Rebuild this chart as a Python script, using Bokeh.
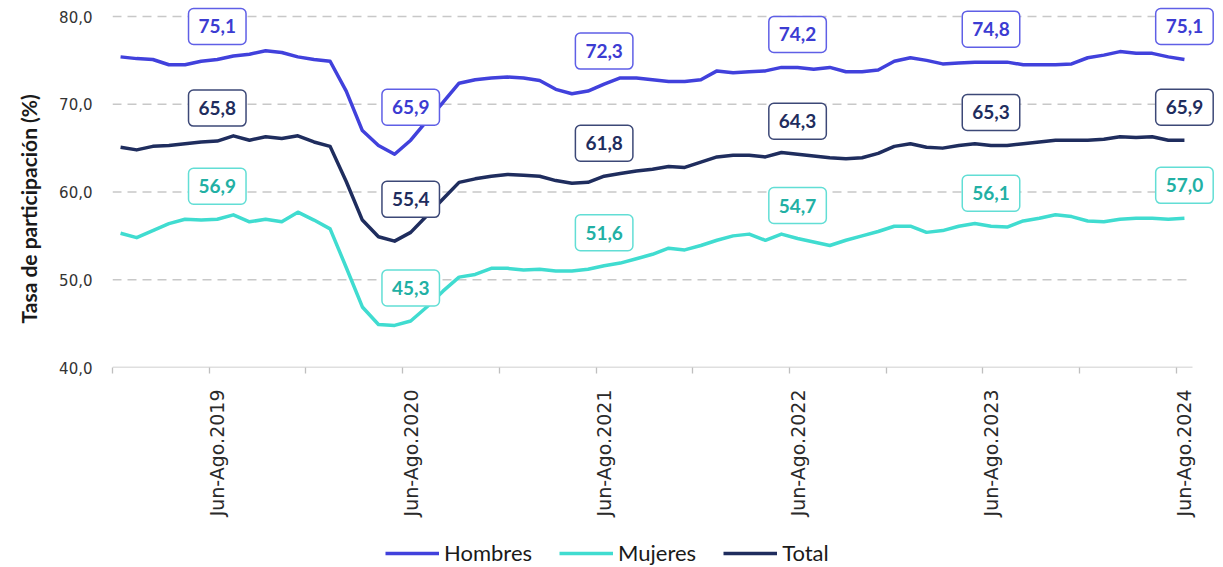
import math
from bokeh.plotting import figure
from bokeh.layouts import column
from bokeh.models import (ColumnDataSource, Range1d, FixedTicker, CustomJSTickFormatter,
                          Legend, LegendItem, Title)
from bokeh.core.properties import value
from bokeh.embed import file_html
from bokeh.resources import INLINE

# ---------------- data ----------------
months = ["Ene", "Feb", "Mar", "Abr", "May", "Jun", "Jul", "Ago", "Sep", "Oct", "Nov", "Dic"]
# rolling quarters: Dic-Feb.2019 ... Jun-Ago.2024 (67 periods)
periods = []
for k in range(67):
    start = 2018 * 12 + 11 + k
    end = start + 2
    periods.append(f"{months[start % 12]}-{months[end % 12]}.{end // 12}")

tick_labels = ["Jun-Ago.2019", "Jun-Ago.2020", "Jun-Ago.2021",
               "Jun-Ago.2022", "Jun-Ago.2023", "Jun-Ago.2024"]

hombres = [75.4, 75.2, 75.1, 74.5, 74.5, 74.9, 75.1, 75.5, 75.7, 76.1,
           75.9, 75.4, 75.1, 74.9, 71.5, 67.0, 65.3, 64.3, 65.9, 68.1,
           70.2, 72.4, 72.8, 73.0, 73.1, 73.0, 72.7, 71.7, 71.2, 71.5,
           72.3, 73.0, 73.0, 72.8, 72.6, 72.6, 72.8, 73.8, 73.6, 73.7,
           73.8, 74.2, 74.2, 74.0, 74.2, 73.7, 73.7, 73.9, 74.9, 75.3,
           75.0, 74.6, 74.7, 74.8, 74.8, 74.8, 74.5, 74.5, 74.5, 74.6,
           75.3, 75.6, 76.0, 75.8, 75.8, 75.4, 75.1]

mujeres = [55.3, 54.8, 55.6, 56.4, 56.9, 56.8, 56.9, 57.4, 56.6, 56.9,
           56.6, 57.7, 56.8, 55.8, 51.4, 46.9, 44.9, 44.8, 45.3, 46.9,
           48.7, 50.3, 50.6, 51.3, 51.3, 51.1, 51.2, 51.0, 51.0, 51.2,
           51.6, 51.9, 52.4, 52.9, 53.6, 53.4, 53.9, 54.5, 55.0, 55.2,
           54.5, 55.2, 54.7, 54.3, 53.9, 54.5, 55.0, 55.5, 56.1, 56.1,
           55.4, 55.6, 56.1, 56.4, 56.1, 56.0, 56.7, 57.0, 57.4, 57.2,
           56.7, 56.6, 56.9, 57.0, 57.0, 56.9, 57.0]

total = [65.1, 64.8, 65.2, 65.3, 65.5, 65.7, 65.8, 66.4, 65.9, 66.3,
         66.1, 66.4, 65.7, 65.2, 61.2, 56.8, 54.9, 54.4, 55.4, 57.3,
         59.2, 61.1, 61.5, 61.8, 62.0, 61.9, 61.8, 61.3, 61.0, 61.1,
         61.8, 62.1, 62.4, 62.6, 62.9, 62.8, 63.4, 64.0, 64.2, 64.2,
         64.0, 64.5, 64.3, 64.1, 63.9, 63.8, 63.9, 64.4, 65.2, 65.5,
         65.1, 65.0, 65.3, 65.5, 65.3, 65.3, 65.5, 65.7, 65.9, 65.9,
         65.9, 66.0, 66.3, 66.2, 66.3, 65.9, 65.9]

y_ticks = [40, 50, 60, 70, 80]

# ---------------- layout geometry ----------------
W = 1223
H_MAIN, H_LEG = 520, 47
LEFT, BOTTOM = 112, 153          # frame starts at x=112, frame bottom at y=367
AXIS_PX_X = 1080                 # width of the drawn category axis
AXIS_PX_Y = 351                  # height of the 40..80 value axis
frame_w = W - LEFT
frame_h = H_MAIN - BOTTOM

n = len(periods)
xs = list(range(n))
label_idx = [periods.index(t) for t in tick_labels]
boundaries = [i - 0.5 for i in range(0, n, 6)]

x_end = -0.5 + n * frame_w / AXIS_PX_X
y_span = y_ticks[-1] - y_ticks[0]
y_end = y_ticks[0] + y_span * frame_h / AXIS_PX_Y

p = figure(width=W, height=H_MAIN,
           x_range=Range1d(-0.5, x_end), y_range=Range1d(y_ticks[0], y_end),
           output_backend="svg", toolbar_location=None,
           min_border_left=LEFT, min_border_right=0, min_border_top=0,
           min_border_bottom=BOTTOM)
p.outline_line_color = None
p.background_fill_color = "white"
p.border_fill_color = "white"
p.xgrid.visible = False
p.ygrid.visible = False

# dashed horizontal gridlines limited to the category axis extent
grid_src = ColumnDataSource(dict(
    x0=[-0.5] * (len(y_ticks) - 1), x1=[n - 0.5] * (len(y_ticks) - 1),
    y=y_ticks[1:]))
p.segment("x0", "y", "x1", "y", source=grid_src, line_color="#C8C8C8",
          line_width=1.3, line_dash="9 6")
# solid base axis line
base_src = ColumnDataSource(dict(x0=[-0.5], x1=[n - 0.5], y=[y_ticks[0]]))
p.segment("x0", "y", "x1", "y", source=base_src, line_color="#BFBFBF", line_width=1.5)

# y axis
p.yaxis.ticker = FixedTicker(ticks=y_ticks)
p.yaxis.formatter = CustomJSTickFormatter(code="return tick.toFixed(1).replace('.', ',');")
p.yaxis.axis_line_color = None
p.yaxis.major_tick_line_color = None
p.yaxis.minor_tick_line_color = None
p.yaxis.major_tick_out = 0
p.yaxis.major_tick_in = 0
p.yaxis.major_label_standoff = 20
p.yaxis.major_label_text_font = "DejaVu Sans"
p.yaxis.major_label_text_font_size = "15px"
p.yaxis.major_label_text_color = "#333333"

# y axis title, centred on the 40..80 span rather than on the whole frame
ytitle = Title(text="Tasa de participación (%)", align="left", offset=44,
               vertical_align="top", standoff=28,
               text_font="Lato", text_font_style="bold", text_font_size="21px",
               text_color="#1a1a1a")
p.add_layout(ytitle, "left")

# x axis
p.xaxis.ticker = FixedTicker(ticks=label_idx, minor_ticks=boundaries)
p.xaxis.formatter = CustomJSTickFormatter(
    args=dict(labels=tick_labels, idx=label_idx),
    code="const k = idx.indexOf(Math.round(tick)); return k >= 0 ? labels[k] : '';")
p.xaxis.axis_line_color = None
p.xaxis.major_tick_line_color = None
p.xaxis.major_tick_out = 0
p.xaxis.major_tick_in = 0
p.xaxis.minor_tick_line_color = "#BFBFBF"
p.xaxis.minor_tick_line_width = 1.3
p.xaxis.minor_tick_out = 6
p.xaxis.minor_tick_in = 0
p.xaxis.major_label_orientation = math.pi / 2
p.xaxis.major_label_standoff = 16
p.xaxis.major_label_text_font = "DejaVu Sans"
p.xaxis.major_label_text_font_size = "19px"
p.xaxis.major_label_text_color = "#2a2a2a"

# ---------------- series ----------------
series = [
    ("Hombres", hombres, "#4141DC", "#3C3CD2", "#5F5FE6"),
    ("Mujeres", mujeres, "#40DCD0", "#22B0A4", "#62DED5"),
    ("Total", total, "#1F2D5E", "#1F2D5E", "#3C4877"),
]

for name, vals, lc, tc, bc in series:
    src = ColumnDataSource(dict(x=xs, y=vals))
    p.line("x", "y", source=src, line_color=lc, line_width=3.5, line_join="round")

for name, vals, lc, tc, bc in series:
    lab_src = ColumnDataSource(dict(
        x=label_idx,
        y=[vals[i] for i in label_idx],
        t=[f"{vals[i]:.1f}".replace(".", ",") for i in label_idx]))
    p.text("x", "y", text="t", source=lab_src, y_offset=-33,
           text_align="center", text_baseline="middle",
           text_font=value("Lato"), text_font_style="bold", text_font_size="19px",
           text_color=tc, background_fill_color="white",
           border_line_color=bc, border_line_width=1.5,
           padding=(10, 11), border_radius=5)

# ---------------- legend strip ----------------
# the strip's ranges keep its copies of the series out of view; only the legend shows
pl = figure(width=W, height=H_LEG, x_range=Range1d(0, 1), y_range=Range1d(0, 1),
            output_backend="svg", toolbar_location=None,
            min_border_left=0, min_border_right=0, min_border_top=0, min_border_bottom=0)
pl.axis.visible = False
pl.grid.visible = False
pl.outline_line_color = None
pl.background_fill_color = "white"
pl.border_fill_color = "white"

items = []
for name, vals, lc, tc, bc in series:
    r = pl.line(x=xs, y=vals, line_color=lc, line_width=3.5)
    items.append(LegendItem(label=name, renderers=[r]))

legend = Legend(items=items, orientation="horizontal", location=(273, 1),
                glyph_width=54, glyph_height=26, label_height=26, label_standoff=5,
                spacing=27, padding=0, margin=0, border_line_color=None,
                background_fill_alpha=0, label_text_font="Lato",
                label_text_font_size="22px", label_text_color="#1a1a1a")
pl.add_layout(legend)

open("out.html", "w").write(file_html(column(p, pl, spacing=0), INLINE))
